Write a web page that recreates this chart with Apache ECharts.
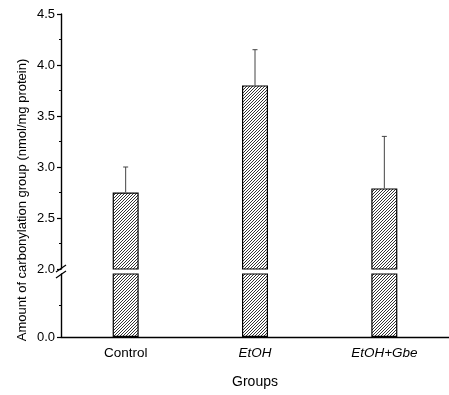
<!DOCTYPE html>
<html>
<head>
<meta charset="utf-8">
<script src="https://cdn.jsdelivr.net/npm/echarts@6/dist/echarts.min.js"></script>
<style>
html, body { margin: 0; padding: 0; background: #fff; }
#chart { width: 449px; height: 395px; }
</style>
</head>
<body>
<div id="chart"></div>
<script>
// groups and values (nmol/mg protein)
var groups = ['Control', 'EtOH', 'EtOH+Gbe'];
var means = [2.75, 3.80, 2.79];
var sds = [0.25, 0.35, 0.51];
var upperTicks = [2.0, 2.5, 3.0, 3.5, 4.0, 4.5];

var FONT = '"Liberation Sans Narrow", "Liberation Sans", Arial, sans-serif';

// hatch fill ////
function hatch() {
	var s = 3;
	var c = document.createElement('canvas');
	c.width = s; c.height = s;
	var g = c.getContext('2d');
	g.fillStyle = '#fff';
	g.fillRect(0, 0, s, s);
	g.strokeStyle = '#000';
	g.lineWidth = 0.8;
	g.beginPath();
	g.moveTo(0, s); g.lineTo(s, 0);
	g.moveTo(-1, 1); g.lineTo(1, -1);
	g.moveTo(s - 1, s + 1); g.lineTo(s + 1, s - 1);
	g.stroke();
	return c;
}
var pattern = { image: hatch(), repeat: 'repeat' };

var myChart = echarts.init(document.getElementById('chart'));

var axisLineStyle = { color: '#000', width: 1.4 };

var option = {
	animation: false,
	backgroundColor: '#fff',
	grid: [
		{ left: 61, top: 14, width: 390, height: 255 },   // upper 2.0 - 4.5
		{ left: 61, top: 274, width: 390, height: 63 }    // lower 0 - 1
	],
	xAxis: [
		{ type: 'category', gridIndex: 0, data: groups, show: false },
		{
			type: 'category', gridIndex: 1, data: groups,
			axisLine: { lineStyle: axisLineStyle },
			axisTick: { alignWithLabel: true, length: 5, lineStyle: { color: '#000', width: 1.2 } },
			axisLabel: {
				color: '#000', fontFamily: FONT, fontSize: 13.5, margin: 9,
				formatter: function (v, i) { return i === 0 ? v : '{it|' + v + '}'; },
				rich: { it: { fontStyle: 'italic', fontFamily: FONT, fontSize: 13.5, color: '#000' } }
			},
			name: 'Groups', nameLocation: 'middle', nameGap: 38,
			nameTextStyle: { color: '#000', fontFamily: FONT, fontSize: 14 }
		},
		{
			type: 'category', gridIndex: 1, data: groups, position: 'bottom',
			axisLine: { show: false },
			axisTick: { length: 2, lineStyle: { color: '#000', width: 1 } },
			axisLabel: { show: false }
		}
	],
	yAxis: [
		{
			type: 'value', gridIndex: 0, min: 2.0, max: 4.5, interval: 0.5,
			axisLine: { show: true, lineStyle: axisLineStyle },
			axisTick: { show: true, length: 4, lineStyle: { color: '#000', width: 1.2 } },
			minorTick: { show: true, splitNumber: 2, length: 2, lineStyle: { color: '#000' } },
			splitLine: { show: false },
			axisLabel: {
				color: '#000', fontFamily: FONT, fontSize: 13, margin: 6,
				customValues: upperTicks,
				formatter: function (v) { return v.toFixed(1); }
			}
		},
		{
			type: 'value', gridIndex: 1, min: 0, max: 1, interval: 1,
			axisLine: { show: true, lineStyle: axisLineStyle },
			axisTick: { show: true, length: 4, customValues: [0], lineStyle: { color: '#000', width: 1.2 } },
			minorTick: { show: true, splitNumber: 2, length: 2, lineStyle: { color: '#000' } },
			splitLine: { show: false },
			axisLabel: {
				color: '#000', fontFamily: FONT, fontSize: 13, margin: 6,
				customValues: [0],
				formatter: function (v) { return v.toFixed(1); }
			}
		}
	],
	series: [
		{
			type: 'bar', xAxisIndex: 0, yAxisIndex: 0, data: means, barWidth: 26,
			itemStyle: { color: pattern, borderColor: '#000', borderWidth: 1.2 }
		},
		{
			type: 'bar', xAxisIndex: 1, yAxisIndex: 1, data: means, barWidth: 26,
			itemStyle: { color: pattern, borderColor: '#000', borderWidth: 1.2 }
		},
		{
			// upward error bars
			type: 'custom', xAxisIndex: 0, yAxisIndex: 0,
			data: means.map(function (m, i) { return [i, m, m + sds[i]]; }),
			renderItem: function (params, api) {
				var base = api.coord([api.value(0), api.value(1)]);
				var top = api.coord([api.value(0), api.value(2)]);
				var st = { stroke: '#444', lineWidth: 1 };
				return {
					type: 'group',
					children: [
						{ type: 'line', shape: { x1: base[0], y1: base[1], x2: top[0], y2: top[1] }, style: st },
						{ type: 'line', shape: { x1: top[0] - 2.5, y1: top[1], x2: top[0] + 2.5, y2: top[1] }, style: st }
					]
				};
			},
			z: 3
		}
	],
	graphic: [
		{
			type: 'text', x: 22, y: 200, rotation: Math.PI / 2,
			style: {
				text: 'Amount of carbonylation group (nmol/mg protein)',
				fill: '#000', font: '13px ' + FONT,
				textAlign: 'center', textVerticalAlign: 'middle'
			}
		},
		// axis break marks
		{ type: 'line', shape: { x1: 56, y1: 272, x2: 66, y2: 265 }, style: { stroke: '#000', lineWidth: 1.2 } },
		{ type: 'line', shape: { x1: 56, y1: 278, x2: 66, y2: 271 }, style: { stroke: '#000', lineWidth: 1.2 } }
	]
};

myChart.setOption(option);
</script>
</body>
</html>
